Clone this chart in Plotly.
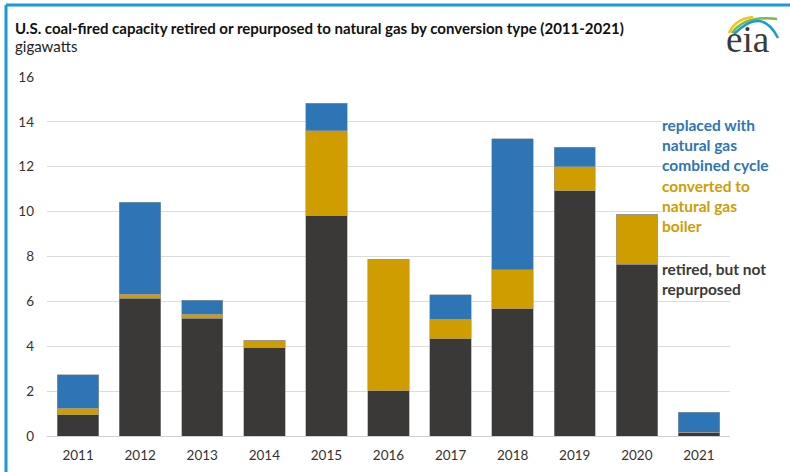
import plotly.graph_objects as go

# Capacity (GW) by year and conversion type
years = ["2011", "2012", "2013", "2014", "2015", "2016", "2017", "2018", "2019", "2020", "2021"]
retired = [0.95, 6.13, 5.24, 3.94, 9.81, 2.02, 4.34, 5.68, 10.93, 7.66, 0.17]
boiler = [0.29, 0.19, 0.19, 0.33, 3.79, 5.86, 0.86, 1.74, 1.06, 2.22, 0.0]
combined = [1.50, 4.10, 0.62, 0.0, 1.23, 0.0, 1.09, 5.83, 0.89, 0.0, 0.89]

y_ticks = [0, 2, 4, 6, 8, 10, 12, 14, 16]

C_BLACK = "#3a3937"
C_GOLD = "#d09d00"
C_BLUE = "#2e75b6"
FONT = "Lato"

W, H = 790, 472
L, R, T, B = 47, 60, 77, 36


def px(x):
    return (x - L) / (W - L - R)


def py(y):
    return (H - B - y) / (H - T - B)


fig = go.Figure()
for name, vals, col in [
    ("retired, but not repurposed", retired, C_BLACK),
    ("converted to natural gas boiler", boiler, C_GOLD),
    ("replaced with natural gas combined cycle", combined, C_BLUE),
]:
    fig.add_trace(go.Bar(
        x=years, y=vals, name=name, marker_color=col,
        marker_line=dict(color="#9a9a9a", width=0.6),
        hoverinfo="x+y+name",
    ))

LEG_SIZE = 15.5
annotations = [
    dict(text="<b>U.S. coal-fired capacity retired or repurposed to natural gas by conversion type (2011-2021)</b>",
         x=px(13), y=py(28), xref="paper", yref="paper", xanchor="left", yanchor="middle",
         showarrow=False, font=dict(family=FONT, size=15, color="#111111")),
    dict(text="gigawatts", x=px(13), y=py(46), xref="paper", yref="paper",
         xanchor="left", yanchor="middle", showarrow=False,
         font=dict(family=FONT, size=15, color="#222222")),
    dict(text="<b>replaced with<br>natural gas<br>combined cycle</b>", x=px(661), y=12.95,
         xref="paper", yref="y", xanchor="left", yanchor="middle", align="left",
         showarrow=False, bgcolor="white", borderpad=0,
         font=dict(family=FONT, size=LEG_SIZE, color=C_BLUE)),
    dict(text="<b>converted to<br>natural gas<br>boiler</b>", x=px(661), y=10.25,
         xref="paper", yref="y", xanchor="left", yanchor="middle", align="left",
         showarrow=False, bgcolor="white", borderpad=0,
         font=dict(family=FONT, size=LEG_SIZE, color=C_GOLD)),
    dict(text="<b>retired, but not<br>repurposed</b>", x=px(661), y=7.01,
         xref="paper", yref="y", xanchor="left", yanchor="middle", align="left",
         showarrow=False, bgcolor="white", borderpad=0,
         font=dict(family=FONT, size=LEG_SIZE, color="#3a3a3a")),
    dict(text="eia", x=px(747), y=py(39), xref="paper", yref="paper",
         xanchor="center", yanchor="middle", showarrow=False,
         font=dict(family="Liberation Serif", size=37, color="#3a3a3a")),
]

shapes = [
    # frame lines
    dict(type="line", xref="paper", yref="paper", x0=px(6), x1=px(790), y0=py(5), y1=py(5),
         line=dict(color="#1a9ad6", width=3)),
    dict(type="line", xref="paper", yref="paper", x0=px(6), x1=px(6), y0=py(5), y1=py(472),
         line=dict(color="#1a9ad6", width=3)),
]


def arc(p0, c, p1, color, width):
    path = (f"M {px(p0[0])},{py(p0[1])} Q {px(c[0])},{py(c[1])} {px(p1[0])},{py(p1[1])}")
    return dict(type="path", xref="paper", yref="paper", path=path,
                line=dict(color=color, width=width))


# logo swooshes
shapes += [
    arc((729, 33), (735, 19), (753, 17), "#f2c618", 2.5),
    arc((732, 33), (745, 15), (777, 19), "#7cb940", 2.5),
    arc((734, 34), (762, 6), (778, 38), "#1a9ad6", 2.5),
]

fig.update_layout(
    width=W, height=H,
    margin=dict(l=L, r=R, t=T, b=B, autoexpand=False),
    barmode="stack", bargap=0.333,
    plot_bgcolor="white", paper_bgcolor="white",
    showlegend=False,
    annotations=annotations, shapes=shapes,
    xaxis=dict(showgrid=False, showline=False, ticks="", ticklabelstandoff=9,
               automargin=False,
               tickfont=dict(family=FONT, size=13.5, color="#333333")),
    yaxis=dict(range=[0, 16], tickvals=y_ticks, showgrid=True, gridcolor="#dcdcdc",
               gridwidth=1, zeroline=True, zerolinecolor="#d0d0d0", zerolinewidth=1,
               ticks="", ticklabelstandoff=12, automargin=False,
               tickfont=dict(family=FONT, size=13.5, color="#333333")),
)

fig.write_html("out.html")
